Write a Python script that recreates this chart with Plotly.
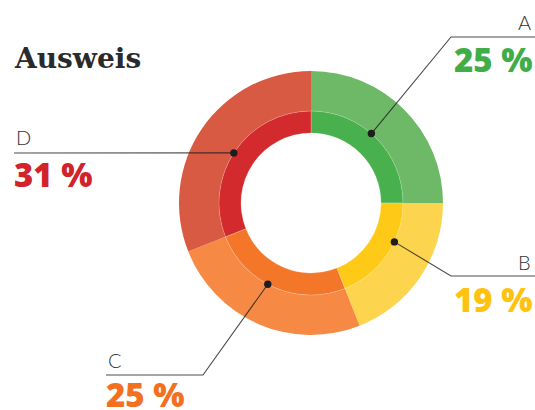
import math
import plotly.graph_objects as go

# ---- data ----
categories = ["A", "B", "C", "D"]
values = [25, 19, 25, 31]
pct_labels = ["25 %", "19 %", "25 %", "31 %"]
outer_colors = ["#6EB967", "#FDD44D", "#F68A45", "#D95A42"]
inner_colors = ["#48B04C", "#FECA17", "#F37629", "#D32B2D"]
text_colors = ["#3FAE49", "#FFC20E", "#F37021", "#D2232A"]

# ---- layout constants (pixels) ----
W, H = 535, 410
CX, CY = 311, 203          # centre (from top)
R_OUT, R_MID, R_IN = 132, 92, 70
# angle (deg, clockwise from 12 o'clock) where each leader dot sits
dot_angles = [41, 115, 208, 303]
# leader line elbows and label anchors
elbows = [(451, 37), (451, 276), (203, 375), (14, 153)]
ends = [(535, 37), (535, 276), (106, 375), (14, 153)]
label_pos = [(533, 22, "right"), (533, 262, "right"), (106, 360, "left"), (14, 137, "left")]
pct_pos = [(535, 59, "right"), (535, 299, "right"), (104, 394, "left"), (12, 174, "left")]


def dom(r):
    yc = H - CY
    return dict(x=[(CX - r) / W, (CX + r) / W], y=[(yc - r) / H, (yc + r) / H])


fig = go.Figure()
fig.add_trace(go.Pie(labels=categories, values=values, sort=False, direction="clockwise",
                     rotation=0, hole=R_MID / R_OUT, domain=dom(R_OUT),
                     marker=dict(colors=outer_colors, line=dict(width=0)),
                     textinfo="none", hoverinfo="label+percent", showlegend=False))
fig.add_trace(go.Pie(labels=categories, values=values, sort=False, direction="clockwise",
                     rotation=0, hole=R_IN / R_MID, domain=dom(R_MID),
                     marker=dict(colors=inner_colors, line=dict(width=0.6, color="rgba(255,255,255,0.35)")),
                     textinfo="none", hoverinfo="label+percent", showlegend=False))

shapes = []
annotations = []
for i, cat in enumerate(categories):
    a = math.radians(dot_angles[i])
    dx = CX + R_MID * math.sin(a)
    dy = CY - R_MID * math.cos(a)
    ex, ey = elbows[i]
    fx, fy = ends[i]
    shapes.append(dict(type="path", xref="x", yref="y",
                       path=f"M{dx},{dy} L{ex},{ey} L{fx},{fy}",
                       line=dict(color="rgba(30,30,30,0.8)", width=1.1)))
    shapes.append(dict(type="circle", xref="x", yref="y",
                       x0=dx - 3.7, x1=dx + 3.7, y0=dy - 3.7, y1=dy + 3.7,
                       fillcolor="#1E1E1E", line=dict(width=0)))
    lx, ly, la = label_pos[i]
    annotations.append(dict(x=lx, y=ly, xref="x", yref="y", text=cat, showarrow=False,
                            xanchor=la, yanchor="middle",
                            font=dict(family="Lato", size=20, color="#333333", weight=300)))
    px, py, pa = pct_pos[i]
    annotations.append(dict(x=px, y=py, xref="x", yref="y", text=pct_labels[i], showarrow=False,
                            xanchor=pa, yanchor="middle",
                            font=dict(family="Open Sans", size=33, color=text_colors[i], weight=800)))

annotations.append(dict(x=12, y=58, xref="x", yref="y", text="Ausweis", showarrow=False,
                        xanchor="left", yanchor="middle",
                        font=dict(family="DejaVu Serif", size=28, color="#2A2A2A", weight="bold")))

fig.update_layout(
    width=W, height=H, autosize=False,
    margin=dict(l=0, r=0, t=0, b=0),
    paper_bgcolor="white", plot_bgcolor="rgba(0,0,0,0)",
    xaxis=dict(range=[0, W], visible=False, fixedrange=True, domain=[0, 1]),
    yaxis=dict(range=[H, 0], visible=False, fixedrange=True, domain=[0, 1]),
    shapes=shapes, annotations=annotations, showlegend=False,
)

fig.write_html("out.html", config={"displayModeBar": False},
               post_script="document.body.style.margin='0';document.body.style.overflow='hidden';")
